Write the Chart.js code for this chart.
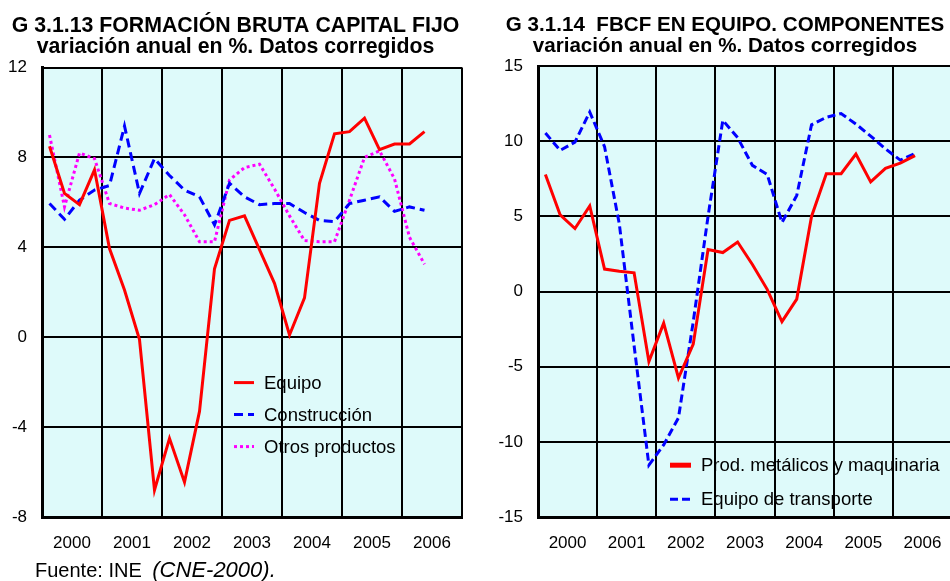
<!DOCTYPE html>
<html>
<head>
<meta charset="utf-8">
<script src="https://cdn.jsdelivr.net/npm/chart.js@4.4.0/dist/chart.umd.min.js"></script>
<style>
  html, body { margin: 0; padding: 0; background: #fff; }
  body { width: 950px; height: 581px; overflow: hidden; position: relative; }
  .box { position: absolute; top: 0; }
  #fuente {
    position: absolute; left: 35px; top: 557px;
    font: 20px 'Liberation Sans', Arial, sans-serif; color: #000; white-space: nowrap;
  }
  #fuente i { font-size: 22px; margin-left: 5px; }
</style>
</head>
<body>
<div class="box" style="left:0px"><canvas id="chartFbcf" width="478" height="581"></canvas></div>
<div class="box" style="left:478px"><canvas id="chartEquipo" width="500" height="581"></canvas></div>
<div id="fuente">Fuente: INE <i>(CNE-2000).</i></div>

<script>
const FONT = "'Liberation Sans', Arial, sans-serif";

// años (eje X), datos trimestrales 2000T1 - 2006T2
const years = ['2000', '2001', '2002', '2003', '2004', '2005', '2006'];

// G 3.1.13
const equipo = [8.5, 6.4, 5.9, 7.45, 3.95, 2.1, -0.1, -6.8, -4.5, -6.45, -3.3, 3.05, 5.2,
  5.4, 3.9, 2.4, 0.1, 1.75, 6.85, 9.05, 9.15, 9.75, 8.35, 8.6, 8.6, 9.15];
const construccion = [5.95, 5.25, 6.1, 6.55, 6.75, 9.4, 6.4, 7.95, 7.2, 6.55, 6.25, 5.0, 6.85,
  6.25, 5.9, 5.95, 5.95, 5.55, 5.2, 5.15, 5.95, 6.1, 6.25, 5.6, 5.8, 5.65];
const otrosProductos = [9.0, 5.8, 8.2, 7.95, 5.95, 5.75, 5.65, 5.9, 6.35, 5.45, 4.25, 4.25, 7.0,
  7.55, 7.7, 6.6, 5.4, 4.3, 4.25, 4.25, 6.1, 8.0, 8.3, 7.05, 4.45, 3.25];

// G 3.1.14
const prodMetalicos = [7.8, 5.1, 4.2, 5.7, 1.5, 1.35, 1.25, -4.65, -2.1, -5.75, -3.5, 2.8, 2.6,
  3.3, 1.8, 0.15, -2.0, -0.5, 5.0, 7.85, 7.85, 9.15, 7.3, 8.2, 8.55, 9.05];
const transporte = [10.55, 9.4, 9.95, 11.95, 9.65, 4.5, -3.6, -11.55, -10.2, -8.4, -2.0, 5.0, 11.4,
  10.25, 8.4, 7.8, 4.6, 6.4, 11.1, 11.6, 11.85, 11.15, 10.35, 9.5, 8.75, 9.2];

// punto centrado en su trimestre
const toPoints = arr => arr.map((v, i) => ({ x: i + 0.5, y: v }));

const plotBg = {
  id: 'plotBg',
  beforeDraw(chart) {
    const { ctx, chartArea: a } = chart;
    ctx.save();
    ctx.fillStyle = '#DEFAFA';
    ctx.fillRect(a.left, a.top, a.right - a.left, a.bottom - a.top);
    ctx.restore();
  }
};

// leyenda dentro del área del gráfico
const insideLegend = {
  id: 'insideLegend',
  afterDraw(chart, args, opts) {
    const { ctx, chartArea: a } = chart;
    ctx.save();
    ctx.font = '18.5px ' + FONT;
    ctx.textBaseline = 'middle';
    ctx.textAlign = 'left';
    chart.data.datasets.forEach((ds, i) => {
      const y = a.top + opts.y + i * opts.gap;
      const x = a.left + opts.x;
      ctx.strokeStyle = ds.borderColor;
      ctx.lineWidth = opts.widths[i];
      ctx.setLineDash(ds.borderDash || []);
      ctx.beginPath();
      ctx.moveTo(x, y);
      ctx.lineTo(x + opts.sample, y);
      ctx.stroke();
      ctx.setLineDash([]);
      ctx.fillStyle = '#000';
      ctx.fillText(ds.label, x + opts.sample + 10, y + 1);
    });
    ctx.restore();
  }
};

function makeOptions(title, titleSize, yMin, yMax, yStep, yWidth, pad, legendOpts) {
  return {
    responsive: false,
    animation: false,
    devicePixelRatio: 1,
    layout: { padding: pad },
    plugins: {
      legend: { display: false },
      tooltip: { enabled: false },
      title: {
        display: true,
        text: title,
        color: '#000',
        font: { family: FONT, size: titleSize, weight: 'bold', lineHeight: 1.0 },
        padding: { top: 15, bottom: 10 }
      },
      insideLegend: legendOpts
    },
    scales: {
      x: {
        type: 'linear',
        min: 0,
        max: 28,
        afterFit: s => { s.height = 36; },
        ticks: {
          stepSize: 2,
          autoSkip: false,
          maxRotation: 0,
          padding: 16,
          color: '#000',
          font: { family: FONT, size: 17 },
          callback: v => (v % 4 === 2 ? years[(v - 2) / 4] : '')
        },
        grid: {
          drawTicks: false,
          color: c => (c.tick && c.tick.value % 4 === 0 ? '#000' : 'rgba(0,0,0,0)'),
          lineWidth: 2
        },
        border: { display: true, color: '#000', width: 3 }
      },
      y: {
        min: yMin,
        max: yMax,
        afterFit: s => { s.width = yWidth; },
        ticks: {
          stepSize: yStep,
          padding: 15,
          color: '#000',
          font: { family: FONT, size: 17 }
        },
        grid: { drawTicks: false, color: '#000', lineWidth: 2 },
        border: { display: true, color: '#000', width: 3 }
      }
    }
  };
}

new Chart(document.getElementById('chartFbcf'), {
  type: 'line',
  data: {
    datasets: [
      { label: 'Equipo', data: toPoints(equipo), borderColor: '#FF0000', borderWidth: 3,
        pointRadius: 0, tension: 0, fill: false },
      { label: 'Construcción', data: toPoints(construccion), borderColor: '#0000FF', borderWidth: 3,
        borderDash: [9, 5], pointRadius: 0, tension: 0, fill: false },
      { label: 'Otros productos', data: toPoints(otrosProductos), borderColor: '#FF00FF', borderWidth: 3,
        borderDash: [3, 3], pointRadius: 0, tension: 0, fill: false }
    ]
  },
  options: makeOptions(
    ['G 3.1.13 FORMACIÓN BRUTA CAPITAL FIJO', 'variación anual en %. Datos corregidos'], 21.3,
    -8, 12, 4, 34,
    { left: 8, right: 15, top: 0, bottom: 28 },
    { x: 192, y: 315, gap: 32, sample: 20, widths: [3, 3, 3] }
  ),
  plugins: [plotBg, insideLegend]
});

new Chart(document.getElementById('chartEquipo'), {
  type: 'line',
  data: {
    datasets: [
      { label: 'Prod. metálicos y maquinaria', data: toPoints(prodMetalicos), borderColor: '#FF0000',
        borderWidth: 3, pointRadius: 0, tension: 0, fill: false },
      { label: 'Equipo de transporte', data: toPoints(transporte), borderColor: '#0000FF',
        borderWidth: 3, borderDash: [8, 4], pointRadius: 0, tension: 0, fill: false }
    ]
  },
  options: makeOptions(
    ['G 3.1.14  FBCF EN EQUIPO. COMPONENTES', 'variación anual en %. Datos corregidos'], 20.6,
    -15, 15, 5, 40,
    { left: 20, right: 26, top: 0, bottom: 28 },
    { x: 132, y: 399, gap: 34, sample: 21, widths: [5, 3] }
  ),
  plugins: [plotBg, insideLegend]
});
</script>
</body>
</html>
